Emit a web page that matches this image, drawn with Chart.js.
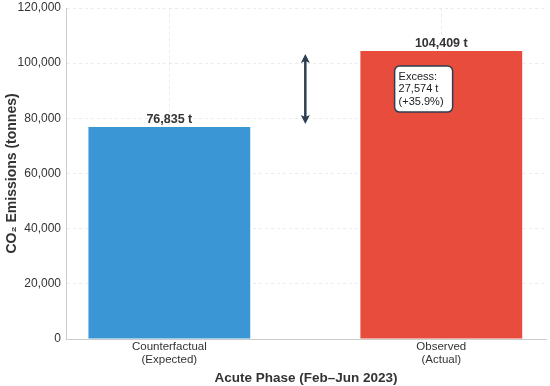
<!DOCTYPE html>
<html>
<head>
<meta charset="utf-8">
<script src="https://cdn.jsdelivr.net/npm/chart.js@4.4.1/dist/chart.umd.min.js"></script>
<style>
html,body{margin:0;padding:0;background:#fff;}
#wrap{width:550px;height:386px;position:relative;}
</style>
</head>
<body>
<div id="wrap"><canvas id="c" width="550" height="386"></canvas></div>
<script>
// ---- data ----
const categories = [["Counterfactual", "(Expected)"], ["Observed", "(Actual)"]];
const positions = [0, 1];
const emissions = [76835, 104409];
const barColors = ["#3a96d4", "#e74c3c"];
const yTicks = [0, 20000, 40000, 60000, 80000, 100000, 120000];
const xTitle = "Acute Phase (Feb\u2013Jun 2023)";
const yTitle = "CO\u2082 Emissions (tonnes)";

const FONT = "'Liberation Sans', Arial, Helvetica, sans-serif";
const fmt = v => v.toLocaleString('en-US');

const excess = emissions[1] - emissions[0];
const pct = excess / emissions[0] * 100;
const boxLines = ["Excess:", fmt(excess) + " t", "(+" + pct.toFixed(1) + "%)"];

const overlay = {
  id: 'overlay',
  afterDatasetsDraw(chart) {
    const ctx = chart.ctx;
    const xs = chart.scales.x, ys = chart.scales.y;
    const meta = chart.getDatasetMeta(0);
    ctx.save();
    // value labels
    ctx.font = "bold 12.5px " + FONT;
    ctx.fillStyle = "#333";
    ctx.textAlign = "center";
    ctx.textBaseline = "bottom";
    meta.data.forEach((el, i) => {
      ctx.fillText(fmt(emissions[i]) + " t", el.x, el.y - 1);
    });
    // double arrow at midpoint between bars
    const ax = xs.getPixelForValue((positions[0] + positions[1]) / 2);
    const yLo = ys.getPixelForValue(emissions[0]);
    const yHi = ys.getPixelForValue(emissions[1]);
    const y1 = yHi + 3, y2 = yLo - 3;
    ctx.strokeStyle = "#2c3e50";
    ctx.fillStyle = "#2c3e50";
    ctx.lineWidth = 2.5;
    ctx.beginPath();
    ctx.moveTo(ax, y1 + 4);
    ctx.lineTo(ax, y2 - 4);
    ctx.stroke();
    ctx.beginPath();
    ctx.moveTo(ax, y1); ctx.lineTo(ax - 4.5, y1 + 9); ctx.lineTo(ax, y1 + 7); ctx.lineTo(ax + 4.5, y1 + 9); ctx.closePath();
    ctx.fill();
    ctx.beginPath();
    ctx.moveTo(ax, y2); ctx.lineTo(ax - 4.5, y2 - 9); ctx.lineTo(ax, y2 - 7); ctx.lineTo(ax + 4.5, y2 - 9); ctx.closePath();
    ctx.fill();
    // annotation box
    const cx = xs.getPixelForValue(0.935);
    const cy = ys.getPixelForValue(90600);
    const w = 58, h = 46, r = 5;
    const bx = cx - w / 2, by = cy - h / 2;
    ctx.beginPath();
    ctx.roundRect(bx, by, w, h, r);
    ctx.fillStyle = "#ffffff";
    ctx.fill();
    ctx.lineWidth = 1.5;
    ctx.strokeStyle = "#2c3e50";
    ctx.stroke();
    ctx.font = "11px " + FONT;
    ctx.fillStyle = "#222";
    ctx.textAlign = "left";
    ctx.textBaseline = "middle";
    boxLines.forEach((t, i) => ctx.fillText(t, bx + 4, by + 10.5 + i * 12.5));
    ctx.restore();
  }
};

new Chart(document.getElementById('c'), {
  type: 'bar',
  data: {
    datasets: [{
      data: positions.map((p, i) => ({ x: p, y: emissions[i] })),
      backgroundColor: barColors,
      borderWidth: 0,
      barPercentage: 0.595,
      categoryPercentage: 1.0
    }]
  },
  options: {
    responsive: false,
    animation: false,
    devicePixelRatio: 1,
    layout: { padding: { left: 0, right: 4, top: 8, bottom: 0 } },
    plugins: { legend: { display: false }, tooltip: { enabled: false } },
    scales: {
      x: {
        type: 'linear',
        offset: false,
        min: -0.38,
        max: 1.385,
        afterBuildTicks: s => { s.ticks = positions.map(v => ({ value: v })); },
        afterFit: s => { s.height = 47; },
        ticks: {
          callback: (v) => { const i = positions.indexOf(v); return i >= 0 ? categories[i] : ''; },
          font: { family: FONT, size: 11.5, lineHeight: 1.1 },
          color: '#333',
          padding: 2,
          maxRotation: 0,
          autoSkip: false
        },
        grid: { color: '#e6e6e6', lineWidth: 0.8, drawTicks: false, offset: false },
        border: { display: true, color: '#cccccc', width: 1, dash: [3, 3] },
        title: {
          display: true, text: xTitle,
          font: { family: FONT, size: 13.5, weight: 'bold' }, color: '#333',
          padding: { top: 1, bottom: 0 }
        }
      },
      y: {
        min: 0,
        max: 120000,
        afterBuildTicks: s => { s.ticks = yTicks.map(v => ({ value: v })); },
        afterFit: s => { s.width = 66; s.paddingTop = 0; s.paddingBottom = 0; },
        ticks: {
          callback: v => fmt(v),
          font: { family: FONT, size: 12 },
          color: '#333',
          padding: 5
        },
        grid: { color: '#e6e6e6', lineWidth: 0.8, drawTicks: false },
        border: { display: true, color: '#cccccc', width: 1, dash: [3, 3] },
        title: {
          display: true, text: yTitle,
          font: { family: FONT, size: 14, weight: 'bold' }, color: '#333',
          padding: { top: 4, bottom: 0 }
        }
      }
    }
  },
  plugins: [overlay]
});
</script>
</body>
</html>
